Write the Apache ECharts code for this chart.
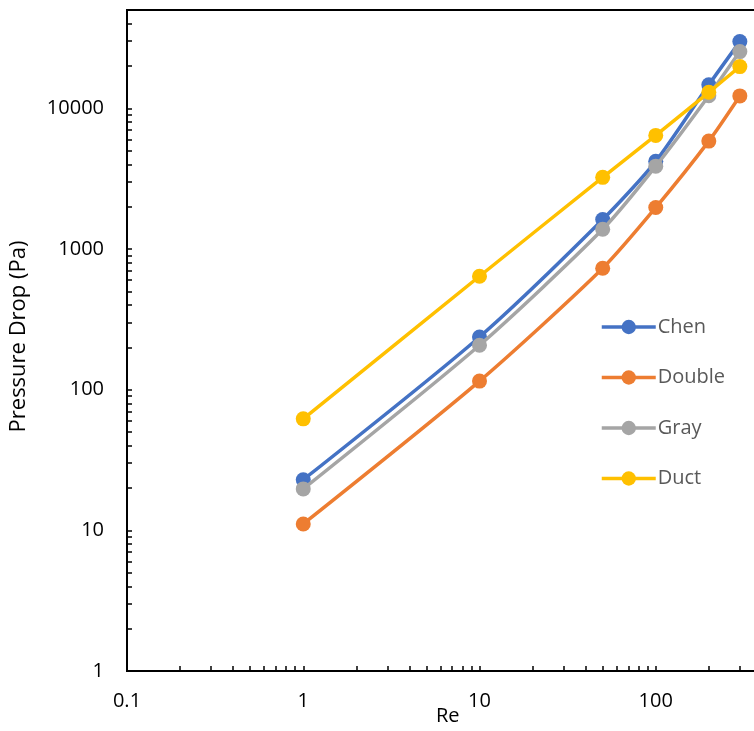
<!DOCTYPE html>
<html>
<head>
<meta charset="utf-8">
<script src="https://cdn.jsdelivr.net/npm/echarts@6/dist/echarts.min.js"></script>
<style>html,body{margin:0;padding:0;background:#fff}#c{width:754px;height:731px}</style>
</head>
<body>
<div id="c"></div>
<script>
const re = [1, 10, 50, 100, 200, 300];
const chen = [22.9, 237, 1620, 4200, 14700, 29800];
const double = [11.1, 115, 730, 1970, 5850, 12250];
const gray = [19.7, 207, 1380, 3880, 12300, 25300];
const duct = [62, 640, 3230, 6420, 13000, 19800];
const seriesNames = ['Chen', 'Double', 'Gray', 'Duct'];
const colors = ['#4472C4', '#ED7D31', '#A5A5A5', '#FFC000'];
const xLabels = [0.1, 1, 10, 100, 1000];
const yLabels = [1, 10, 100, 1000, 10000];

function minorTicks(fromExp, toExp, maxVal) {
  const out = [];
  for (let e = fromExp; e <= toExp; e++) {
    for (let m = 1; m <= 9; m++) {
      const v = +(m * Math.pow(10, e)).toPrecision(6);
      if (v <= maxVal) out.push(v);
    }
  }
  return out;
}

const chart = echarts.init(document.getElementById('c'));
const font = '"Open Sans", sans-serif';
const allData = [chen, double, gray, duct];
chart.setOption({
  animation: false,
  title: {
    text: 'Re', left: 431, top: 701,
    textStyle: { fontFamily: font, fontSize: 20, fontWeight: 'normal', color: '#000' }
  },
  grid: { left: 127, top: 10, width: 705, bottom: 60, outerBoundsMode: 'none', containLabel: false,
    show: true, borderColor: '#000', borderWidth: 2, backgroundColor: 'transparent' },
  legend: {
    orient: 'vertical', left: 600, top: 317, padding: 0,
    itemWidth: 54, itemHeight: 18, itemGap: 30.5,
    textStyle: { fontFamily: font, fontSize: 20, color: '#595959', padding: [0, 0, 0, -3] },
    data: seriesNames.map((n, i) => ({ name: n, lineStyle: { width: 3.5, color: colors[i] } }))
  },
  xAxis: {
    type: 'log', logBase: 10, min: 0.1, max: 1000,
    axisLine: { lineStyle: { color: '#000', width: 2 } },
    axisTick: { inside: true, length: 5, lineStyle: { color: '#000', width: 1.5 }, customValues: minorTicks(-1, 3, 1000) },
    axisLabel: { customValues: xLabels, margin: 20, fontFamily: font, fontSize: 20, color: '#000',
      formatter: v => String(+(+v).toPrecision(6)) },
    splitLine: { show: false }
  },
  yAxis: {
    type: 'log', logBase: 10, min: 1, max: 50000,
    name: 'Pressure Drop (Pa)', nameLocation: 'middle', nameGap: 97,
    nameTextStyle: { fontFamily: font, fontSize: 22, color: '#000', padding: [0, 0, 0, 8] },
    axisLine: { lineStyle: { color: '#000', width: 2 } },
    axisTick: { inside: true, length: 5, lineStyle: { color: '#000', width: 1.5 }, customValues: minorTicks(0, 4, 50000) },
    axisLabel: { customValues: yLabels, margin: 23, fontFamily: font, fontSize: 20, color: '#000',
      formatter: v => String(+(+v).toPrecision(6)) },
    splitLine: { show: false }
  },
  series: seriesNames.map((n, i) => ({
    name: n, type: 'line', smooth: 0.25,
    data: re.map((x, j) => [x, allData[i][j]]),
    symbol: 'circle', symbolSize: 15,
    lineStyle: { color: colors[i], width: 3.5 },
    itemStyle: { color: colors[i] },
    z: 2 + i
  }))
});
</script>
</body>
</html>
